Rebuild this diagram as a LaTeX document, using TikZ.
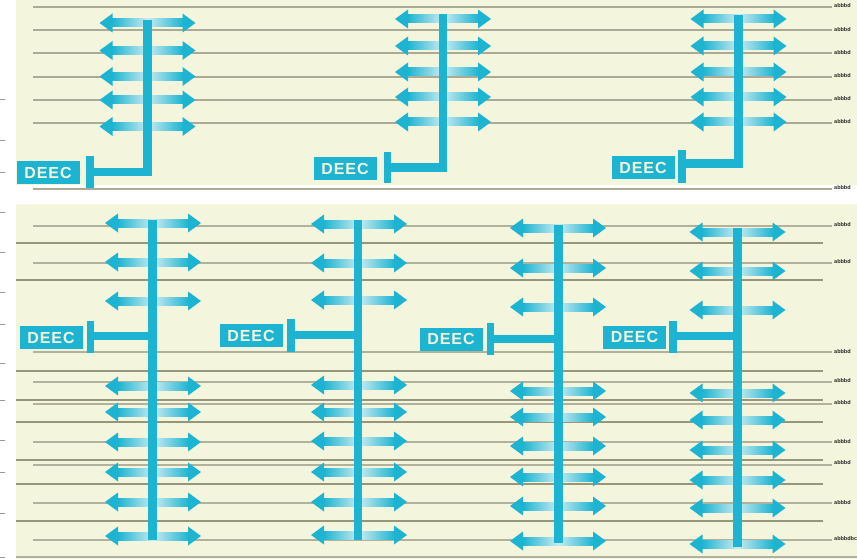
\documentclass[tikz,border=0pt]{standalone}
\usepackage{fontspec}
\newfontfamily\deecfont[LetterSpace=6]{Liberation Sans}
\newfontfamily\lblfont{Liberation Sans}
\definecolor{cy}{RGB}{29,180,209}
\definecolor{pale}{RGB}{200,235,240}
\definecolor{cream}{RGB}{244,245,221}
\definecolor{lineA}{RGB}{150,150,122}
\definecolor{lineB}{RGB}{178,178,156}
\begin{document}
\begin{tikzpicture}[x=1pt,y=-1pt,
  thickline/.style={draw=lineA,line width=1.7pt},
  thinline/.style={draw=lineB,line width=1.1pt},
  deec/.style={fill=cy,text=cream,font=\deecfont\bfseries\fontsize{16}{16}\selectfont,minimum width=63pt,minimum height=23pt,inner sep=0pt},
  pole/.style={draw=cy,line width=8.5pt,line cap=butt,line join=miter},
  tcap/.style={draw=cy,line width=7.5pt,line cap=butt},
  lbl/.style={font=\lblfont\bfseries\fontsize{5.5}{5.5}\selectfont,text=black!85,inner sep=0pt,anchor=west},
  tickmark/.style={draw=gray!80,line width=0.8pt},
  pics/dblarrow/.style={code={
    \shade[left color=cy,right color=cy,middle color=pale] (-35.5,-4) rectangle (35.5,4);
    \fill[cy] (-48,0) -- (-35,-9.5) -- (-35,9.5) -- cycle;
    \fill[cy] (48,0) -- (35,-9.5) -- (35,9.5) -- cycle;
  }}]
\useasboundingbox (0,0) rectangle (857,559);
\fill[white] (0,0) rectangle (857,559);
% panels
\fill[cream] (16,0) rectangle (857,185);
\fill[cream] (16,204) rectangle (857,559);
% left ticks
\foreach \y in {99,140,172,212,252,292,324,363,400,440,472,513,557}
  \draw[tickmark] (0,\y) -- (5,\y);
% top panel lines
\foreach \y in {7,30,53,77,100,123,189}
  \draw[thinline,draw=lineA!80,line width=1.1pt] (33,\y) -- (832,\y);
\foreach \y/\t in {6/abbbd,30/abbbd,53/abbbd,76/abbbd,99/abbbd,122/abbbd,188/abbbd}
  \node[lbl] at (834,\y) {\t};
% bottom panel lines
\foreach \y in {226,263,352,382,404,442,465,503,540}
  \draw[thinline] (33,\y) -- (832,\y);
\foreach \y in {243,280,371,400,422,460,484,521}
  \draw[thickline] (16,\y) -- (823,\y);
\draw[thinline] (16,557) -- (857,557);
\foreach \y/\t in {225/abbbd,262/abbbd,352/abbbd,381/abbbd,403/abbbd,442/abbbd,463/abbbd,503/abbbd,539/abbbdbc}
  \node[lbl] at (834,\y) {\t};

% ---------- top unit 1
\foreach \y in {23,50.5,76.5,100,126.5} \pic at (147.5,\y) {dblarrow};
\node[deec] (d1) at (48,172.5) {DEEC};
\coordinate (t1a) at (90,156); \coordinate (t1b) at (90,188);
\coordinate (t1m) at (90,172); \coordinate (c1) at (147.5,172); \coordinate (p1) at (147.5,20);
\draw[tcap] (t1a) -- (t1b);
\draw[pole] (t1m) -- (c1) -- (p1);
% ---------- top unit 2
\foreach \y in {19,46,72,97,122} \pic at (443,\y) {dblarrow};
\node[deec] (d2) at (345,168.5) {DEEC};
\coordinate (t2a) at (387.5,152); \coordinate (t2b) at (387.5,183);
\coordinate (t2m) at (387.5,167.5); \coordinate (c2) at (443,167.5); \coordinate (p2) at (443,14);
\draw[tcap] (t2a) -- (t2b);
\draw[pole] (t2m) -- (c2) -- (p2);
% ---------- top unit 3
\foreach \y in {19,46,72,97,122} \pic at (738.5,\y) {dblarrow};
\node[deec] (d3) at (643,167.5) {DEEC};
\coordinate (t3a) at (682,150); \coordinate (t3b) at (682,183);
\coordinate (t3m) at (682,163.5); \coordinate (c3) at (738.5,163.5); \coordinate (p3) at (738.5,15);
\draw[tcap] (t3a) -- (t3b);
\draw[pole] (t3m) -- (c3) -- (p3);

% ---------- bottom unit 1
\foreach \y in {223,262,301,386,412,442,472,502,536} \pic at (153,\y) {dblarrow};
\node[deec] (d4) at (51,337.5) {DEEC};
\coordinate (t4a) at (90.5,321); \coordinate (t4b) at (90.5,353);
\coordinate (t4m) at (90.5,336); \coordinate (c4) at (152.5,336);
\coordinate (p4a) at (152.5,220); \coordinate (p4b) at (152.5,540);
\draw[tcap] (t4a) -- (t4b);
\draw[pole] (t4m) -- (c4);
\draw[pole] (p4a) -- (p4b);
% ---------- bottom unit 2
\foreach \y in {224,263,300,385,412,441,472,502,535} \pic at (359,\y) {dblarrow};
\node[deec] (d5) at (251,335.5) {DEEC};
\coordinate (t5a) at (291,319); \coordinate (t5b) at (291,352);
\coordinate (t5m) at (291,335); \coordinate (c5) at (358,335);
\coordinate (p5a) at (358,220); \coordinate (p5b) at (358,540);
\draw[tcap] (t5a) -- (t5b);
\draw[pole] (t5m) -- (c5);
\draw[pole] (p5a) -- (p5b);
% ---------- bottom unit 3
\foreach \y in {228,268,307,391,417,446,477,506,541} \pic at (558,\y) {dblarrow};
\node[deec] (d6) at (451,339) {DEEC};
\coordinate (t6a) at (490.5,323); \coordinate (t6b) at (490.5,355);
\coordinate (t6m) at (490.5,339); \coordinate (c6) at (558.5,339);
\coordinate (p6a) at (558.5,225); \coordinate (p6b) at (558.5,543);
\draw[tcap] (t6a) -- (t6b);
\draw[pole] (t6m) -- (c6);
\draw[pole] (p6a) -- (p6b);
% ---------- bottom unit 4
\foreach \y in {232,271,310,393,420,450,480,508,544} \pic at (737.5,\y) {dblarrow};
\node[deec] (d7) at (634.5,337) {DEEC};
\coordinate (t7a) at (673,321); \coordinate (t7b) at (673,353);
\coordinate (t7m) at (673,336); \coordinate (c7) at (737.5,336);
\coordinate (p7a) at (737.5,228); \coordinate (p7b) at (737.5,547);
\draw[tcap] (t7a) -- (t7b);
\draw[pole] (t7m) -- (c7);
\draw[pole] (p7a) -- (p7b);
\end{tikzpicture}
\end{document}
